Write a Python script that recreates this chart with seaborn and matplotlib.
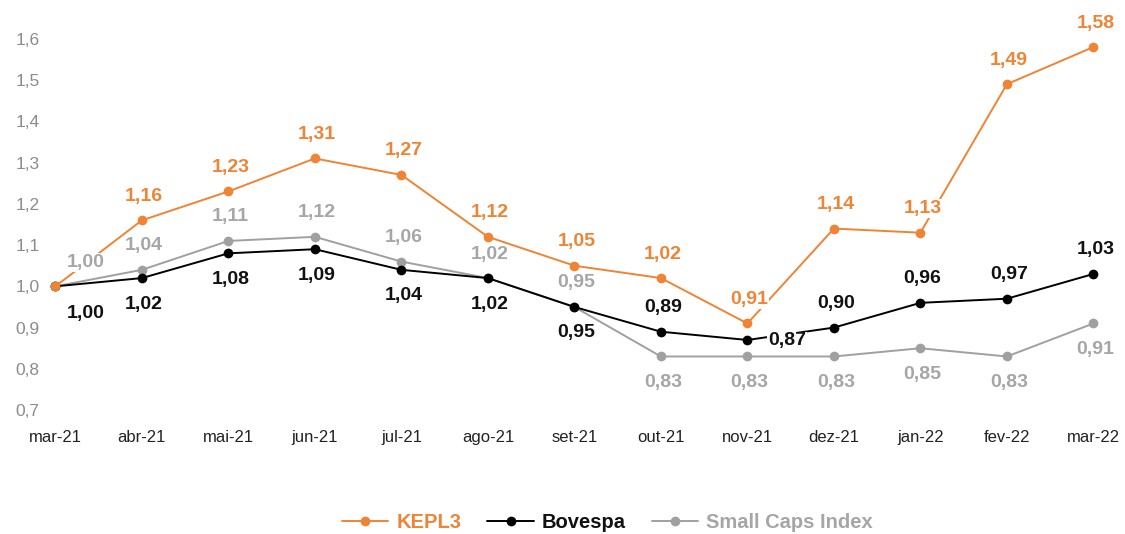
import pandas as pd
import matplotlib.pyplot as plt
import seaborn as sns
from matplotlib.lines import Line2D

# Dados
meses = ['mar-21', 'abr-21', 'mai-21', 'jun-21', 'jul-21', 'ago-21', 'set-21',
         'out-21', 'nov-21', 'dez-21', 'jan-22', 'fev-22', 'mar-22']
kepl3 = [1.00, 1.16, 1.23, 1.31, 1.27, 1.12, 1.05, 1.02, 0.91, 1.14, 1.13, 1.49, 1.58]
bovespa = [1.00, 1.02, 1.08, 1.09, 1.04, 1.02, 0.95, 0.89, 0.87, 0.90, 0.96, 0.97, 1.03]
small_caps = [1.00, 1.04, 1.11, 1.12, 1.06, 1.02, 0.95, 0.83, 0.83, 0.83, 0.85, 0.83, 0.91]
series = ['KEPL3', 'Bovespa', 'Small Caps Index']
y_ticks = [0.7, 0.8, 0.9, 1.0, 1.1, 1.2, 1.3, 1.4, 1.5, 1.6]

# posição dos rótulos de cada ponto
pos_kepl3 = [None, 'a', 'a', 'a', 'a', 'a', 'a', 'a', 'a', 'a', 'a', 'a', 'a']
pos_bovespa = ['br', 'b', 'b', 'b', 'b', 'b', 'b', 'a', 'r', 'a', 'a', 'a', 'a']
pos_small = ['ar', 'a', 'a', 'a', 'a', 'a', 'a', 'b', 'b', 'b', 'b', 'b', 'b']

cores = {'KEPL3': '#EE8434', 'Bovespa': '#000000', 'Small Caps Index': '#A0A0A0'}
cores_texto = {'KEPL3': '#EE8434', 'Bovespa': '#111111', 'Small Caps Index': '#A6A6A6'}

df = pd.DataFrame({'x': list(range(len(meses))) * 3,
                   'valor': kepl3 + bovespa + small_caps,
                   'serie': [s for s in series for _ in meses]})

sns.set_style('white')
plt.rcParams['font.family'] = ['Liberation Sans', 'DejaVu Sans']

fig = plt.figure(figsize=(11.25, 5.34), dpi=100)
ax = fig.add_axes([0.04, 0.232, 0.945, 0.734])

# desenhar cinza primeiro, laranja por cima
for s, z in [('Small Caps Index', 2), ('Bovespa', 3), ('KEPL3', 4)]:
    sns.lineplot(data=df[df['serie'] == s], x='x', y='valor', color=cores[s],
                 marker='o', markersize=7, markeredgewidth=0, linewidth=1.4,
                 ax=ax, zorder=z, legend=False)

offsets = {'a': (2, 24), 'b': (2, -26), 'r': (40, -1), 'ar': (30, 24), 'br': (30, -27)}
for s, vals, poss in [('KEPL3', kepl3, pos_kepl3), ('Bovespa', bovespa, pos_bovespa),
                      ('Small Caps Index', small_caps, pos_small)]:
    for i, (v, p) in enumerate(zip(vals, poss)):
        if p is None:
            continue
        ax.annotate(f'{v:.2f}'.replace('.', ','), (i, v), xytext=offsets[p],
                    textcoords='offset pixels', ha='center', va='center',
                    fontsize=14, fontweight='bold', color=cores_texto[s], zorder=10,
                    bbox=dict(boxstyle='square,pad=0.05', fc='white', ec='none'))

ax.set_xlim(-0.12, 12.17)
ax.set_ylim(0.7, 1.65)
ax.set_xticks(range(len(meses)))
ax.set_xticklabels(meses, fontsize=12, color='#222222')
ax.set_yticks(y_ticks)
ax.set_yticklabels([f'{t:.1f}'.replace('.', ',') for t in y_ticks],
                   fontsize=12.5, color='#8C8C8C')
ax.tick_params(axis='both', length=0)
ax.tick_params(axis='x', pad=14)
ax.tick_params(axis='y', pad=4)
ax.set_xlabel('')
ax.set_ylabel('')
sns.despine(ax=ax, left=True, bottom=True)

handles = [Line2D([], [], color=cores[s], marker='o', markersize=7,
                  markeredgewidth=0, linewidth=1.4) for s in series]
leg = fig.legend(handles, series, loc='center', bbox_to_anchor=(0.54, 0.022),
                 ncol=3, frameon=False, prop={'size': 14.5, 'weight': 'bold'},
                 handlelength=2.3, columnspacing=1.3, handletextpad=0.4)
for txt, s in zip(leg.get_texts(), series):
    txt.set_color(cores_texto[s])

fig.savefig('out.png', dpi=100)
